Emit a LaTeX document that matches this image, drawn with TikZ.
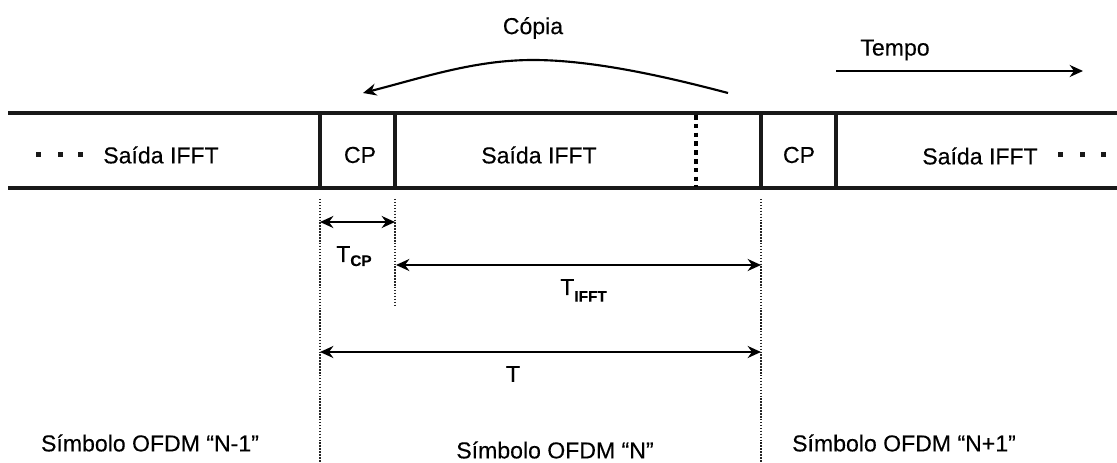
\documentclass[tikz,border=0pt]{standalone}
\usepackage{fontspec}
\setmainfont[FakeBold=0.2]{Liberation Sans}
\usetikzlibrary{arrows.meta}
\newcommand{\subf}[2]{\raisebox{-#1pt}{\fontsize{11.5}{13}\selectfont\bfseries #2}}
\tikzset{
 txt/.style={inner sep=0pt,font=\fontsize{17.3}{20}\selectfont},
 bar/.style={line width=3pt,black!90},
 guide/.style={line width=1.1pt,dash pattern=on 1.1pt off 1.1pt,black!85},
 dim/.style={line width=1.6pt,{Stealth[length=10pt,width=9pt]}-{Stealth[length=10pt,width=9pt]}},
 one/.style={line width=1.6pt,-{Stealth[length=10pt,width=9pt]}}
}
\begin{document}
\begin{tikzpicture}[x=0.75pt,y=-0.75pt]
\useasboundingbox (0,0) rectangle (1117,463);
\coordinate (L1) at (8,113); \coordinate (R1) at (1117,113);
\coordinate (L2) at (8,188); \coordinate (R2) at (1117,188);
\draw[bar] (L1)--(R1); \draw[bar] (L2)--(R2);
\coordinate (a1) at (320,113); \coordinate (a2) at (320,188);
\coordinate (b1) at (395,113); \coordinate (b2) at (395,188);
\coordinate (c1) at (761,113); \coordinate (c2) at (761,188);
\coordinate (d1) at (836,113); \coordinate (d2) at (836,188);
\coordinate (e1) at (696,115); \coordinate (e2) at (696,187);
\draw[bar] (a1)--(a2); \draw[bar] (b1)--(b2); \draw[bar] (c1)--(c2); \draw[bar] (d1)--(d2);
\draw[line width=3pt,dash pattern=on 3.4pt off 3.2pt] (e1)--(e2);
\coordinate (a0) at (320,199); \coordinate (b0) at (395,199); \coordinate (c0) at (761,199);
\coordinate (a3) at (320,463); \coordinate (b3) at (395,305); \coordinate (c3) at (761,463);
\draw[guide] (a0)--(a3); \draw[guide] (b0)--(b3); \draw[guide] (c0)--(c3);
\coordinate (p1) at (320,222); \coordinate (p2) at (395,222);
\coordinate (q1) at (396,265); \coordinate (q2) at (761,265);
\coordinate (r1) at (320,352); \coordinate (r2) at (761,352);
\draw[dim] (p1)--(p2); \draw[dim] (q1)--(q2); \draw[dim] (r1)--(r2);
\coordinate (t1) at (836,71); \coordinate (t2) at (1083,71);
\draw[one] (t1)--(t2);
\coordinate (k1) at (728,93); \coordinate (k2) at (363,93);
\coordinate (k3) at (533,60);
\draw[one] (k1) .. controls (660,75) and (590,60) .. (k3) .. controls (475,60) and (425,77) .. (k2);
\node[txt] (copia) at (533,28) {Cópia};
\node[txt] (tempo) at (895,50) {Tempo};
\node[txt] (s1) at (161,155) {Saída IFFT};
\node[txt] (cp1) at (360,155) {CP};
\node[txt] (s2) at (539,155) {Saída IFFT};
\node[txt] (cp2) at (799,155) {CP};
\node[txt] (s3) at (980,156) {Saída IFFT};
\node[txt,anchor=base west] (tcp) at (336,262) {T\subf{3}{CP}};
\node[txt,anchor=base west] (tifft) at (560,295) {T\subf{5}{IFFT}};
\node[txt] (t) at (513,374) {T};
\node[txt] (n1) at (150,443) {Símbolo OFDM “N-1”};
\node[txt] (n2) at (555,450) {Símbolo OFDM “N”};
\node[txt] (n3) at (904,443) {Símbolo OFDM “N+1”};
\foreach \x in {38,60,80,1060,1082,1103} \fill[black!90] (\x-2.5,152.5) rectangle (\x+2.5,157.5);
\end{tikzpicture}
\end{document}
